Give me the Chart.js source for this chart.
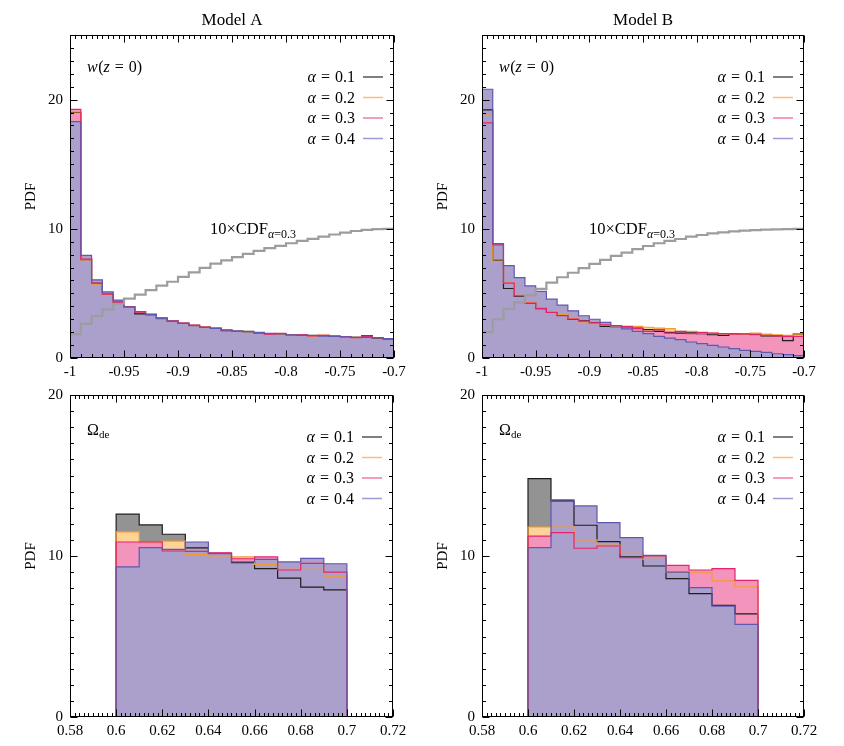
<!DOCTYPE html>
<html><head><meta charset="utf-8">
<script src="https://cdn.jsdelivr.net/npm/chart.js@4/dist/chart.umd.min.js"></script>
<style>
html,body{margin:0;padding:0;background:#fff;overflow:hidden;}
#wrap{position:relative;width:844px;height:746px;}
canvas{position:absolute;left:0;top:0;}
</style></head><body><div id="wrap">
<canvas id="c1" width="844" height="746"></canvas>
<canvas id="c2" width="844" height="746"></canvas>
<canvas id="c3" width="844" height="746"></canvas>
<canvas id="c4" width="844" height="746"></canvas>
</div>
<script>
// ---------- data ----------
const ALPHAS = ['0.1', '0.2', '0.3', '0.4'];
const W_EDGES = [-1.00,-0.99,-0.98,-0.97,-0.96,-0.95,-0.94,-0.93,-0.92,-0.91,-0.90,-0.89,-0.88,-0.87,-0.86,-0.85,
  -0.84,-0.83,-0.82,-0.81,-0.80,-0.79,-0.78,-0.77,-0.76,-0.75,-0.74,-0.73,-0.72,-0.71,-0.70];
const OM_EDGES = [0.60,0.61,0.62,0.63,0.64,0.65,0.66,0.67,0.68,0.69,0.70];

// Model A, w(z=0)
const wA_a01 = [19.0,7.62,5.77,4.95,4.32,3.96,3.42,3.36,3.08,2.88,2.68,2.52,2.38,2.30,2.15,2.05,2.06,1.95,1.88,1.86,1.80,1.78,1.75,1.74,1.70,1.66,1.60,1.72,1.52,1.48];
const wA_a02 = [19.05,7.60,5.72,4.92,4.30,3.95,3.58,3.38,3.12,2.90,2.70,2.50,2.42,2.28,2.12,2.10,2.00,1.97,1.88,1.85,1.82,1.76,1.70,1.77,1.60,1.62,1.62,1.60,1.56,1.46];
const wA_a03 = [19.25,7.65,5.80,4.95,4.30,3.97,3.55,3.40,3.10,2.88,2.70,2.55,2.40,2.32,2.10,2.05,2.05,1.98,1.85,1.90,1.78,1.80,1.72,1.75,1.68,1.66,1.58,1.65,1.58,1.44];
const wA_a04 = [18.3,7.95,6.05,5.12,4.48,3.95,3.60,3.35,3.05,2.85,2.68,2.50,2.38,2.30,2.15,2.10,2.02,1.96,1.90,1.86,1.80,1.75,1.74,1.70,1.67,1.64,1.60,1.60,1.55,1.50];
const wA_cdf = [1.85,2.65,3.25,3.77,4.20,4.60,4.90,5.25,5.60,5.90,6.28,6.62,6.98,7.30,7.55,7.80,8.06,8.29,8.50,8.68,8.88,9.06,9.22,9.40,9.56,9.70,9.83,9.92,9.97,10.0];

// Model B, w(z=0)
const wB_a01 = [19.2,7.55,5.38,4.78,4.24,3.82,3.52,3.30,2.98,2.88,2.72,2.45,2.42,2.38,2.32,2.19,2.06,1.98,1.93,2.00,1.88,1.80,1.75,1.88,1.85,1.85,1.72,1.72,1.34,1.85];
const wB_a02 = [18.8,7.50,5.82,4.84,4.30,3.90,3.60,3.35,3.04,2.80,2.66,2.52,2.45,2.40,2.45,2.38,2.32,2.28,2.06,2.06,1.93,1.93,1.88,1.85,1.85,1.93,1.85,1.80,1.75,1.80];
const wB_a03 = [18.2,8.75,5.80,4.82,4.25,3.84,3.53,3.27,3.02,2.86,2.72,2.57,2.50,2.45,2.27,2.06,2.19,1.93,2.06,1.88,1.98,1.93,1.88,1.85,1.86,1.80,1.75,1.72,1.67,1.67];
const wB_a04 = [20.8,8.85,7.15,6.22,5.58,5.16,4.55,4.10,3.65,3.27,3.00,2.75,2.48,2.26,2.06,1.88,1.67,1.54,1.42,1.24,1.11,0.98,0.85,0.72,0.59,0.51,0.44,0.33,0.26,0.18];
const wB_cdf = [2.0,3.0,3.8,4.3,4.84,5.35,5.84,6.25,6.60,6.95,7.28,7.60,7.90,8.16,8.42,8.67,8.88,9.06,9.21,9.40,9.52,9.65,9.73,9.80,9.86,9.90,9.93,9.96,9.98,10.0];

// Model A, Omega_de
const omA_a01 = [12.6,11.93,11.35,10.5,10.17,9.59,9.21,8.63,8.07,7.9];
const omA_a02 = [11.5,10.8,10.93,10.1,10.0,9.94,9.48,9.27,9.17,8.71];
const omA_a03 = [10.87,10.87,10.31,10.29,10.2,9.83,9.94,9.13,9.54,9.0];
const omA_a04 = [9.32,10.52,10.41,10.87,10.15,9.63,9.79,9.63,9.85,9.52];

// Model B, Omega_de
const omB_a01 = [14.81,13.42,11.91,10.89,9.94,9.38,8.59,7.66,6.93,6.41];
const omB_a02 = [11.8,11.8,11.0,10.68,10.17,9.79,9.0,8.96,8.46,8.09];
const omB_a03 = [11.24,11.45,10.48,10.62,9.9,10.0,9.42,9.13,9.21,8.49];
const omB_a04 = [10.52,13.49,13.11,12.07,11.14,10.04,9.0,8.03,6.89,5.75];

const W_TICKS = [-1, -0.95, -0.9, -0.85, -0.8, -0.75, -0.7];
const OM_TICKS = [0.58, 0.6, 0.62, 0.64, 0.66, 0.68, 0.7, 0.72];
const Y_TICKS = [0, 10, 20];

// ---------- style ----------
const LINE_COLORS = ['#1e1e1e', '#f39a2e', '#e6246e', '#5f58b0'];
const FILL_COLORS = ['#939393', '#fdd398', '#f394bd', '#ab9fcc'];
const LEG_COLORS  = ['#555555', '#f8bd7c', '#ee7ca6', '#9a9bd4'];
const CDF_COLOR = '#9d9d9d';
const SERIF = '"Liberation Serif", "DejaVu Serif", serif';
const TICK_FONT = {family: SERIF, size: 15};

Chart.defaults.color = '#000';

function histPoints(edges, vals, closed) {
  const pts = [];
  if (closed) pts.push({x: edges[0], y: 0});
  for (let i = 0; i < vals.length; i++) pts.push({x: edges[i], y: vals[i]});
  pts.push({x: edges[vals.length], y: vals[vals.length - 1]});
  if (closed) pts.push({x: edges[vals.length], y: 0});
  return pts;
}

function runsWidth(ctx, runs) {
  let w = 0;
  for (const r of runs) { ctx.font = r.f; w += ctx.measureText(r.t).width + (r.gap || 0); }
  return w;
}
function drawRuns(ctx, x, y, runs) {
  for (const r of runs) {
    ctx.font = r.f;
    ctx.fillText(r.t, x, y + (r.dy || 0));
    x += ctx.measureText(r.t).width + (r.gap || 0);
  }
}
const N = s => s + 'px ' + SERIF;
const I = s => 'italic ' + s + 'px ' + SERIF;

function makeDecor(p) {
  return {
    id: 'decor',
    afterDraw(chart) {
      const ctx = chart.ctx, a = chart.chartArea;
      const xs = chart.scales.x, ys = chart.scales.y;
      ctx.save();
      // frame
      ctx.strokeStyle = '#000'; ctx.lineWidth = 1;
      const L = Math.round(a.left) + 0.5, R = Math.round(a.right) - 0.5;
      const T = Math.round(a.top) + 0.5, B = Math.round(a.bottom) - 0.5;
      ctx.strokeRect(L, T, R - L, B - T);
      ctx.beginPath();
      const xTicks = (minor, edgeY, dir) => {
        const n = Math.round((p.xMax - p.xMin) / minor);
        for (let i = 0; i <= n; i++) {
          const v = p.xMin + i * minor;
          const q = v / p.xStep;
          const major = Math.abs(q - Math.round(q)) < 1e-6;
          const px = Math.round(xs.getPixelForValue(v)) + 0.5;
          ctx.moveTo(px, edgeY); ctx.lineTo(px, edgeY + dir * (major ? 7 : 3.5));
        }
      };
      xTicks(p.minorB, B, -1);
      xTicks(p.minorT, T, 1);
      for (let v = 0; v <= p.yMax; v += 1) {
        const major = v % 10 === 0;
        const py = Math.round(ys.getPixelForValue(v)) + 0.5;
        const len = major ? 7 : 3.5;
        ctx.moveTo(L, py); ctx.lineTo(L + len, py);
        ctx.moveTo(R, py); ctx.lineTo(R - len, py);
      }
      ctx.stroke();

      ctx.fillStyle = '#000';
      ctx.textBaseline = 'alphabetic';
      // title
      if (p.title) {
        ctx.font = N(17); ctx.textAlign = 'center';
        ctx.fillText(p.title, (a.left + a.right) / 2, 25);
      }
      // y-axis title
      ctx.save();
      ctx.translate(a.left - 35, (a.top + a.bottom) / 2);
      ctx.rotate(-Math.PI / 2);
      ctx.font = N(15); ctx.textAlign = 'center';
      ctx.fillText('PDF', 0, 0);
      ctx.restore();
      ctx.textAlign = 'left';
      // panel tag
      if (p.tag === 'w') {
        drawRuns(ctx, a.left + 17, a.top + 37, [
          {t: 'w', f: I(16), gap: 0.5}, {t: '(', f: N(16)}, {t: 'z', f: I(16), gap: 5},
          {t: '=', f: N(16), gap: 5}, {t: '0)', f: N(16)}]);
      } else {
        drawRuns(ctx, a.left + 17, a.top + 40, [
          {t: 'Ω', f: N(16)}, {t: 'de', f: N(11), dy: 3}]);
      }
      // CDF note
      if (p.cdfText) {
        drawRuns(ctx, a.left + p.cdfText, a.top + 199, [
          {t: '10×CDF', f: N(16.5)}, {t: 'α', f: I(12), dy: 3.5},
          {t: '=0.3', f: N(12), dy: 3.5}]);
      }
      // legend
      for (let k = 0; k < 4; k++) {
        const yb = a.top + 47 + k * 20.5;
        const runs = [{t: 'α', f: I(16), gap: 5}, {t: '=', f: N(16), gap: 5}, {t: ALPHAS[k], f: N(16)}];
        const w = runsWidth(ctx, runs);
        drawRuns(ctx, a.right - 39 - w, yb, runs);
        ctx.strokeStyle = LEG_COLORS[k]; ctx.lineWidth = 1.5;
        ctx.beginPath();
        ctx.moveTo(a.right - 31, yb - 5); ctx.lineTo(a.right - 11, yb - 5);
        ctx.stroke();
      }
      ctx.restore();
    }
  };
}

function makeChart(p) {
  const datasets = [];
  if (p.cdf) datasets.push({label: 'cdf', data: histPoints(p.edges, p.cdf, false),
    borderColor: CDF_COLOR, borderWidth: 2.2, fill: false, stepped: true, pointRadius: 0});
  for (let k = 3; k >= 0; k--) {
    datasets.push({label: 'alpha=' + ALPHAS[k], data: histPoints(p.edges, p.series[k], p.closed),
      borderColor: LINE_COLORS[k], backgroundColor: FILL_COLORS[k], borderWidth: 1.2,
      fill: 'origin', stepped: true, pointRadius: 0});
  }
  new Chart(document.getElementById(p.canvas), {
    type: 'line',
    data: {datasets},
    options: {
      responsive: false, animation: false, events: [],
      layout: {padding: {left: p.area.l - 40, right: 844 - p.area.r, top: p.area.t, bottom: 746 - p.area.b - 28}},
      scales: {
        x: {type: 'linear', min: p.xMin, max: p.xMax,
          grid: {display: false, drawTicks: false}, border: {display: false},
          afterBuildTicks: s => { s.ticks = p.xTicks.map(v => ({value: v})); },
          ticks: {padding: 5, maxRotation: 0, autoSkip: false, font: TICK_FONT, color: '#000',
            callback: v => String(+(+v).toFixed(2))},
          afterFit: s => { s.height = 28; s.paddingLeft = 0; s.paddingRight = 0; }},
        y: {type: 'linear', min: 0, max: p.yMax,
          grid: {display: false, drawTicks: false}, border: {display: false},
          afterBuildTicks: s => { s.ticks = Y_TICKS.map(v => ({value: v})); },
          ticks: {padding: 7, font: TICK_FONT, color: '#000', callback: v => String(v)},
          afterFit: s => { s.width = 40; s.paddingTop = 0; s.paddingBottom = 0; }}
      },
      plugins: {legend: {display: false}, tooltip: {enabled: false}, filler: {drawTime: 'beforeDatasetsDraw'}}
    },
    plugins: [makeDecor(p)]
  });
}

const panels = [
  {canvas: 'c1', area: {l: 70, t: 35, r: 394, b: 358}, xMin: -1, xMax: -0.7, xStep: 0.05, minorB: 0.01, minorT: 0.005,
   xTicks: W_TICKS, yMax: 25, title: 'Model A', tag: 'w', edges: W_EDGES, closed: false,
   series: [wA_a01, wA_a02, wA_a03, wA_a04], cdf: wA_cdf, cdfText: 140},
  {canvas: 'c2', area: {l: 482, t: 35, r: 804, b: 358}, xMin: -1, xMax: -0.7, xStep: 0.05, minorB: 0.01, minorT: 0.005,
   xTicks: W_TICKS, yMax: 25, title: 'Model B', tag: 'w', edges: W_EDGES, closed: false,
   series: [wB_a01, wB_a02, wB_a03, wB_a04], cdf: wB_cdf, cdfText: 107},
  {canvas: 'c3', area: {l: 70, t: 395, r: 393, b: 717}, xMin: 0.58, xMax: 0.72, xStep: 0.02, minorB: 0.002, minorT: 0.002,
   xTicks: OM_TICKS, yMax: 20, tag: 'om', edges: OM_EDGES, closed: true,
   series: [omA_a01, omA_a02, omA_a03, omA_a04]},
  {canvas: 'c4', area: {l: 482, t: 395, r: 804, b: 717}, xMin: 0.58, xMax: 0.72, xStep: 0.02, minorB: 0.002, minorT: 0.002,
   xTicks: OM_TICKS, yMax: 20, tag: 'om', edges: OM_EDGES, closed: true,
   series: [omB_a01, omB_a02, omB_a03, omB_a04]}
];
panels.forEach(makeChart);
</script>
</body></html>
